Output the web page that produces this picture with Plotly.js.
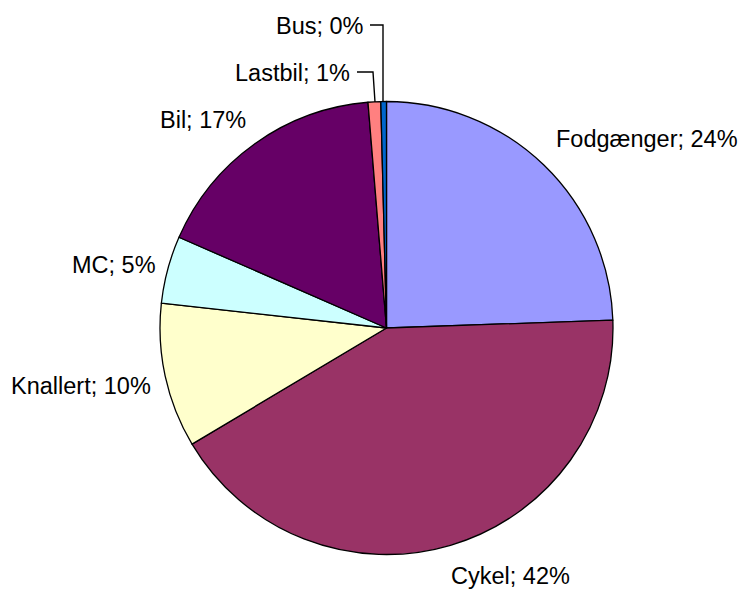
<!DOCTYPE html>
<html>
<head>
<meta charset="utf-8">
<script src="https://cdn.plot.ly/plotly-3.0.1.min.js"></script>
<style>html,body{margin:0;padding:0;background:#fff;}#chart{width:742px;height:590px;}</style>
</head>
<body>
<div id="chart"></div>
<script>
const categories = ["Fodgænger", "Cykel", "Knallert", "MC", "Bil", "Lastbil", "Bus"];
const values = [24.4, 41.9, 10.3, 4.8, 17.1, 0.9, 0.4];
const colors = ["#9999FF", "#993366", "#FFFFCC", "#CCFFFF", "#660066", "#FF8080", "#0066CC"];

const W = 742, H = 590;
const total = values.reduce((a, b) => a + b, 0);
const labelText = categories.map((c, i) => c + "; " + Math.round(values[i] / total * 100) + "%");

// label placement (pixels): [x, y, xanchor]
const labelPos = [
  [554, 139, "left"],
  [511, 576, "center"],
  [153, 386, "right"],
  [158, 265, "right"],
  [248, 120, "right"],
  [352, 73, "right"],
  [366, 26, "right"]
];
const px = x => x / W, py = y => 1 - y / H;

const annotations = labelText.map((t, i) => ({
  text: t, xref: "paper", yref: "paper",
  x: px(labelPos[i][0]), y: py(labelPos[i][1]),
  xanchor: labelPos[i][2], yanchor: "middle",
  showarrow: false,
  font: {family: "Liberation Sans, Arial, sans-serif", size: 23.5, color: "#000"}
}));

const leaders = [
  [[357, 72], [373, 72], [375, 102]],
  [[370, 25], [383, 25], [383, 102]]
];
const shapes = leaders.map(pts => ({
  type: "path", xref: "paper", yref: "paper",
  path: pts.map((p, k) => (k ? "L" : "M") + px(p[0]) + "," + py(p[1])).join(" "),
  line: {color: "#000", width: 1.4}
}));

const cx = 386.5, cy = 328, r = 226.5;
const trace = {
  type: "pie",
  labels: categories,
  values: values,
  sort: false,
  direction: "clockwise",
  rotation: 0,
  textinfo: "none",
  hoverinfo: "label+percent",
  marker: {colors: colors, line: {color: "#000", width: 1.3}},
  domain: {x: [(cx - r) / W, (cx + r) / W], y: [1 - (cy + r) / H, 1 - (cy - r) / H]},
  showlegend: false
};

Plotly.newPlot("chart", [trace], {
  width: W, height: H,
  margin: {l: 0, r: 0, t: 0, b: 0},
  paper_bgcolor: "#fff",
  showlegend: false,
  annotations: annotations,
  shapes: shapes
}, {displayModeBar: false, staticPlot: true});
</script>
</body>
</html>
